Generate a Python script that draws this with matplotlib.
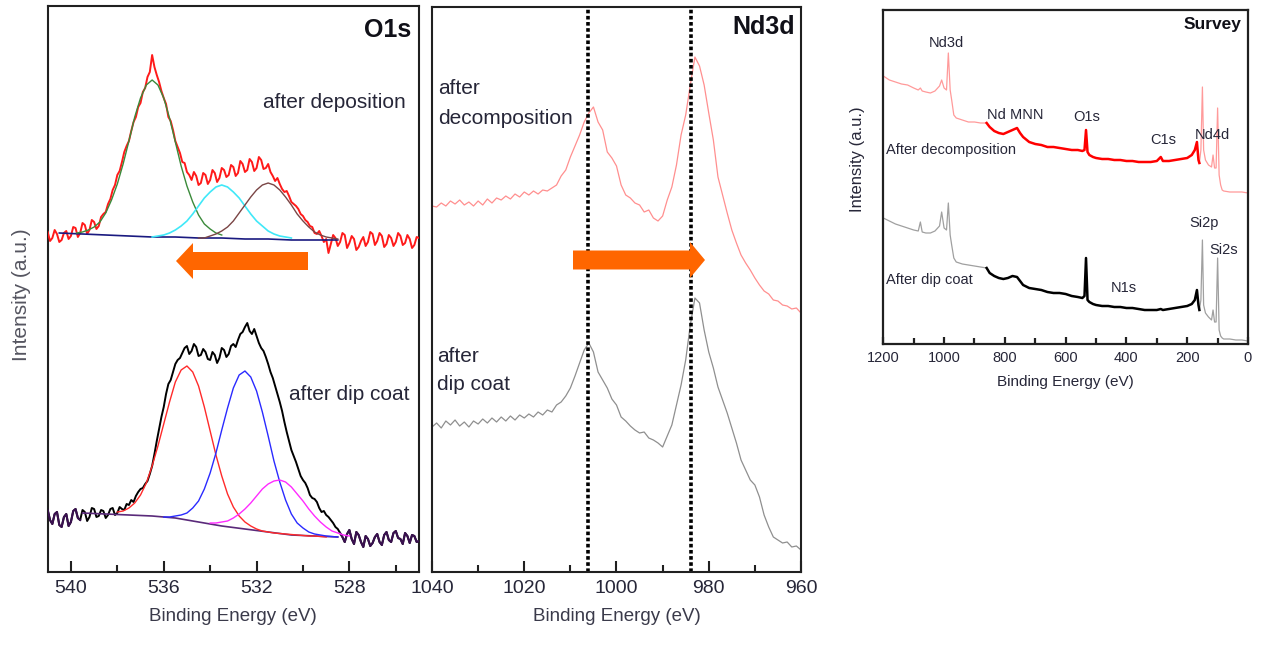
import numpy as np
import matplotlib
matplotlib.use("Agg")
import matplotlib.pyplot as plt
from matplotlib.patches import Polygon
from matplotlib.ticker import MultipleLocator

plt.rcParams['font.family'] = ['Liberation Sans', 'DejaVu Sans']

W, H = 1264, 648
TEXT = '#262638'

# ---------------- O1s core level (0.1 eV steps, 541 -> 525 eV) ----------------
o1s_be = np.round(np.linspace(541.0, 525.0, 161), 2)
o1s_deposition = [
    340, 331, 334, 342, 338, 330, 332, 339, 341, 333,
    336, 345, 344, 335, 339, 349, 347, 338, 342, 352,
    350, 343, 346, 355, 358, 360, 368, 373, 382, 387,
    397, 401, 410, 420, 426, 431, 441, 450, 455, 465,
    469, 480, 484, 495, 500, 517, 505, 497, 490, 481,
    474, 468, 455, 451, 442, 431, 425, 419, 410, 409,
    400, 397, 392, 400, 396, 387, 389, 399, 397, 388,
    392, 402, 399, 390, 394, 404, 402, 395, 397, 407,
    405, 396, 399, 411, 408, 400, 402, 413, 410, 401,
    404, 415, 412, 403, 404, 408, 400, 396, 391, 394,
    388, 383, 380, 381, 376, 370, 368, 366, 363, 358,
    356, 352, 350, 346, 345, 339, 338, 341, 336, 330,
    333, 319, 328, 337, 334, 326, 330, 339, 337, 324,
    329, 336, 333, 322, 325, 331, 335, 326, 330, 340,
    338, 327, 331, 339, 336, 325, 328, 337, 334, 326,
    330, 339, 336, 327, 329, 337, 333, 324, 327, 335,
    334]
o1s_dipcoat = [
    62, 52, 48, 58, 60, 47, 45, 55, 58, 46,
    50, 61, 63, 54, 52, 62, 60, 51, 55, 64,
    63, 55, 56, 62, 61, 54, 57, 63, 64, 57,
    59, 65, 63, 62, 68, 67, 72, 70, 76, 80,
    83, 84, 88, 91, 98, 106, 118, 131, 143, 155,
    165, 178, 188, 192, 200, 208, 212, 214, 219, 224,
    226, 218, 221, 228, 225, 216, 217, 223, 220, 213,
    212, 220, 217, 209, 214, 224, 222, 215, 218, 226,
    228, 225, 232, 238, 240, 245, 249, 241, 238, 243,
    236, 229, 224, 221, 215, 208, 200, 194, 186, 178,
    170, 161, 150, 140, 131, 122, 116, 110, 103, 96,
    92, 89, 84, 77, 74, 73, 70, 64, 60, 61,
    57, 55, 52, 49, 45, 43, 39, 35, 30, 38,
    42, 33, 28, 40, 37, 30, 25, 36, 33, 26,
    29, 35, 38, 30, 27, 37, 40, 32, 30, 39,
    41, 34, 33, 28, 39, 36, 29, 37, 36, 30,
    31]

# fitted components, after deposition
dep_bg_be = [540.5, 539.5, 538.5, 537.5, 536.5, 535.5, 534.5, 533.5, 532.5, 531.5, 530.5, 529.5, 528.5]
dep_bg = [339, 338, 337, 336, 335, 335, 334, 334, 333, 333, 332, 332, 332]
dep_c1_be = np.linspace(539.75, 533.5, 26)
dep_c1 = [339, 340, 342, 345, 350, 359, 372, 388, 408, 431, 455, 474, 487, 492,
          487, 474, 454, 430, 406, 386, 370, 357, 348, 343, 339, 337]
dep_c2_be = np.linspace(536.5, 530.5, 25)
dep_c2 = [335, 336, 337, 339, 342, 346, 351, 358, 366, 374, 380, 385, 387,
          385, 380, 374, 366, 358, 351, 346, 341, 338, 336, 335, 334]
dep_c3_be = np.linspace(534.5, 528.5, 25)
dep_c3 = [334, 334, 336, 338, 341, 345, 351, 359, 367, 375, 382, 387, 389,
          387, 382, 375, 367, 358, 351, 345, 340, 337, 335, 334, 333]

# fitted components, after dip coat
dip_bg_be = [539.5, 538.5, 537.5, 536.5, 535.5, 534.5, 533.5, 532.5, 531.5, 530.5, 529.5, 528.5]
dip_bg = [59, 58, 57, 56, 54, 50, 46, 43, 40, 37, 36, 35]
dip_c1_be = np.linspace(538.0, 529.0, 37)
dip_c1 = [60, 61, 64, 69, 77, 89, 106, 126, 148, 170, 190, 202, 206,
          200, 186, 165, 141, 117, 96, 78, 65, 56, 50, 46, 43,
          41, 40, 39, 38.5, 38, 37.5, 37, 36.5, 36, 36, 35.5, 35]
dip_c2_be = np.linspace(536.0, 528.5, 31)
dip_c2 = [55, 55, 56, 57, 59, 64, 71, 83, 99, 119, 142, 164, 184, 197, 201,
          195, 181, 160, 136, 111, 90, 72, 58, 49, 44, 40, 38, 37, 36, 35.5, 35]
dip_c3_be = np.linspace(534.0, 528.0, 25)
dip_c3 = [49, 49, 50, 51, 54, 58, 63, 69, 76, 83, 88, 91, 92,
          90, 85, 78, 71, 63, 56, 50, 45, 41, 39, 37, 36]

# ---------------- Nd3d core level (1 eV steps, 1040 -> 960 eV) ----------------
nd_be = np.linspace(1040, 960, 81)
nd_decomposition = [
    366, 365, 369, 366, 371, 368, 372, 367, 370, 366,
    371, 367, 373, 369, 374, 372, 376, 373, 378, 375,
    380, 377, 381, 378, 382, 381, 384, 387, 396, 402,
    415, 426, 437, 450, 459, 465, 450, 442, 420, 414,
    406, 387, 377, 374, 369, 367, 360, 362, 354, 351,
    356, 372, 385, 407, 437, 457, 487, 515, 506, 487,
    459, 432, 395, 377, 359, 342, 329, 317, 309, 302,
    294, 287, 281, 278, 272, 271, 267, 266, 263, 264,
    259]
nd_dipcoat = [
    145, 149, 144, 151, 147, 152, 146, 150, 145, 151,
    148, 153, 149, 154, 150, 155, 151, 156, 152, 157,
    154, 158, 155, 160, 157, 162, 160, 167, 170, 176,
    184, 196, 209, 222, 229, 220, 200, 192, 184, 173,
    167, 155, 151, 146, 142, 139, 140, 134, 132, 129,
    125, 136, 147, 167, 187, 212, 247, 274, 269, 242,
    220, 204, 185, 172, 159, 144, 129, 112, 102, 92,
    87, 75, 57, 45, 35, 32, 29, 30, 25, 26,
    22]
nd_markers = [1006.2, 983.9]

# ---------------- Survey ----------------
survey_be = [
    1200, 1180, 1160, 1140, 1120, 1100, 1085, 1078, 1072, 1060,
    1045, 1030, 1015, 1008, 1000, 992, 986, 980, 975, 968,
    960, 940, 920, 900, 880, 860, 850, 835, 820, 805,
    790, 775, 760, 750, 740, 720, 700, 680, 660, 640,
    620, 600, 580, 560, 545, 538, 533, 528, 522, 510,
    500, 480, 460, 440, 420, 400, 380, 360, 340, 320,
    300, 287, 280, 260, 240, 220, 200, 185, 175, 168,
    163, 160, 155, 150, 146, 140, 130, 120, 115, 110,
    105, 100, 95, 90, 85, 80, 60, 40, 20, 0]
survey_decomposition = [
    268, 264, 262, 260, 259, 256, 254, 256, 253, 252,
    251, 253, 258, 264, 256, 254, 291, 254, 244, 229,
    226, 224, 222, 222, 221, 221, 217, 213, 211, 210,
    212, 214, 216, 211, 207, 202, 200, 199, 197, 197,
    196, 195, 194, 194, 193, 194, 214, 192, 189, 187,
    186, 185, 185, 184, 184, 183, 183, 182, 182, 182,
    183, 187, 183, 183, 184, 185, 186, 189, 194, 202,
    184, 181, 194, 257, 194, 184, 179, 177, 189, 176,
    176, 236, 169, 159, 154, 153, 152, 152, 152, 151]
survey_dipcoat = [
    126, 123, 120, 118, 116, 114, 113, 122, 112, 111,
    111, 113, 118, 132, 116, 114, 141, 109, 99, 86,
    82, 80, 79, 78, 77, 76, 71, 68, 66, 65,
    66, 68, 67, 63, 59, 56, 55, 54, 52, 51,
    51, 50, 48, 47, 46, 48, 86, 44, 42, 40,
    39, 38, 38, 37, 37, 36, 36, 35, 34, 34,
    34, 35, 34, 35, 36, 37, 38, 40, 44, 54,
    39, 34, 44, 104, 39, 31, 27, 24, 34, 22,
    22, 86, 14, 8, 6, 5, 5, 4, 4, 3]
survey_bold_range = (160, 860)

# ---------------- figure ----------------
fig = plt.figure(figsize=(W / 100, H / 100), dpi=100)


def px_axes(x0, y0, x1, y1):
    return fig.add_axes([x0 / W, 1 - y1 / H, (x1 - x0) / W, (y1 - y0) / H])


def ftext(px, py, s, **kw):
    kw.setdefault('color', TEXT)
    fig.text(px / W, 1 - py / H, s, **kw)


def style_axes(ax, major, minor, fs, lw, maj_len, min_len, pad):
    ax.set_yticks([])
    ax.xaxis.set_major_locator(MultipleLocator(major))
    ax.xaxis.set_minor_locator(MultipleLocator(minor))
    ax.tick_params(axis='x', which='both', direction='in', labelsize=fs,
                   labelcolor=TEXT, color='#202020', pad=pad)
    ax.tick_params(axis='x', which='major', length=maj_len, width=lw)
    ax.tick_params(axis='x', which='minor', length=min_len, width=lw)
    for s in ax.spines.values():
        s.set_linewidth(lw)
        s.set_color('#202020')


def block_arrow(x_tail, x_tip, yc, shaft, head, head_len, color='#ff6600'):
    d = 1 if x_tip > x_tail else -1
    xb = x_tip - d * head_len
    pts = [(x_tail, yc - shaft), (xb, yc - shaft), (xb, yc - head), (x_tip, yc),
           (xb, yc + head), (xb, yc + shaft), (x_tail, yc + shaft)]
    pts = [(x / W, 1 - y / H) for x, y in pts]
    fig.add_artist(Polygon(pts, closed=True, facecolor=color, edgecolor='none',
                           transform=fig.transFigure, zorder=5))


# --- O1s panel ---
ax1 = px_axes(47.7, 6, 419, 572)
ax1.plot(o1s_be, o1s_deposition, color='#ff1a1a', lw=1.4, zorder=3)
ax1.plot(dep_bg_be, dep_bg, color='#1a1a80', lw=1.2, zorder=4)
ax1.plot(dep_c1_be, dep_c1, color='#3a8a3a', lw=1.0, zorder=4)
ax1.plot(dep_c2_be, dep_c2, color='#40e8f8', lw=1.2, zorder=4)
ax1.plot(dep_c3_be, dep_c3, color='#7a4545', lw=1.0, zorder=4)

dip = np.array(o1s_dipcoat)
ax1.plot(o1s_be, dip, color='black', lw=1.4, zorder=3)
for m in (o1s_be >= 539.6, o1s_be <= 528.4):
    ax1.plot(o1s_be[m], dip[m], color='#3a1050', lw=1.5, zorder=3)
ax1.plot(dip_bg_be, dip_bg, color='#5a2a7a', lw=1.2, zorder=4)
ax1.plot(dip_c1_be, dip_c1, color='#ff2a2a', lw=1.0, zorder=4)
ax1.plot(dip_c2_be, dip_c2, color='#2a2aff', lw=1.0, zorder=4)
ax1.plot(dip_c3_be, dip_c3, color='#ff2aff', lw=1.0, zorder=4)

ax1.set_xlim(541, 525)
ax1.set_ylim(0, 566)
style_axes(ax1, 4, 2, 14, 1.5, 8, 5, 6)
ax1.set_xlabel('Binding Energy (eV)', fontsize=13.5, color='#3a3a4a', labelpad=8)

# --- Nd3d panel ---
ax2 = px_axes(432, 7, 801, 572)
ax2.plot(nd_be, nd_decomposition, color='#ff8f8f', lw=0.9)
ax2.plot(nd_be, nd_dipcoat, color='#8f8f8f', lw=0.9)
for be in nd_markers:
    ax2.axvline(be, color='black', lw=2.6, linestyle=(0, (1, 0.7)), zorder=2)
ax2.set_xlim(1040, 960)
ax2.set_ylim(0, 565)
style_axes(ax2, 20, 10, 14, 1.5, 8, 5, 6)
ax2.set_xlabel('Binding Energy (eV)', fontsize=13.5, color='#3a3a4a', labelpad=8)

# --- Survey panel ---
ax3 = px_axes(883.3, 9.5, 1248, 344)
sbe = np.array(survey_be)
bold = (sbe >= survey_bold_range[0]) & (sbe <= survey_bold_range[1])
hi = sbe >= survey_bold_range[1]
lo = sbe <= survey_bold_range[0]
for vals, light, dark in ((survey_decomposition, '#ff9a9a', '#ff0000'),
                          (survey_dipcoat, '#a0a0a0', '#000000')):
    v = np.array(vals)
    ax3.plot(sbe[hi], v[hi], color=light, lw=0.9)
    ax3.plot(sbe[lo], v[lo], color=light, lw=0.9)
    ax3.plot(sbe[bold], v[bold], color=dark, lw=1.8)
ax3.set_xlim(1200, 0)
ax3.set_ylim(0, 334.5)
style_axes(ax3, 200, 100, 10.5, 1.6, 5, 4, 5)
ax3.set_xlabel('Binding Energy (eV)', fontsize=11, color=TEXT, labelpad=7)

# --- labels ---
ftext(22, 295, 'Intensity (a.u.)', rotation=90, fontsize=15, color='#555560',
      ha='center', va='center')
ftext(411, 30, 'O1s', fontsize=18, fontweight='bold', ha='right', va='center',
      color='#101018')
ftext(263, 103, 'after deposition', fontsize=15, ha='left', va='center')
ftext(289, 395, 'after dip coat', fontsize=15, ha='left', va='center')

ftext(795, 27, 'Nd3d', fontsize=18, fontweight='bold', ha='right', va='center',
      color='#101018')
ftext(438, 88, 'after', fontsize=15, ha='left', va='center')
ftext(438, 118, 'decomposition', fontsize=15, ha='left', va='center')
ftext(437, 356, 'after', fontsize=15, ha='left', va='center')
ftext(437, 384, 'dip coat', fontsize=15, ha='left', va='center')

ftext(858, 159, 'Intensity (a.u.)', rotation=90, fontsize=12, ha='center', va='center')
ftext(1241, 25, 'Survey', fontsize=12.5, fontweight='bold', ha='right', va='center',
      color='#101018')
ftext(946, 43, 'Nd3d', fontsize=10.5, ha='center', va='center')
ftext(1015, 115, 'Nd MNN', fontsize=10.5, ha='center', va='center')
ftext(1087, 117, 'O1s', fontsize=10.5, ha='center', va='center')
ftext(1163, 140, 'C1s', fontsize=10.5, ha='center', va='center')
ftext(1212, 135, 'Nd4d', fontsize=10.5, ha='center', va='center')
ftext(886, 150, 'After decomposition', fontsize=10.5, ha='left', va='center')
ftext(1204, 223, 'Si2p', fontsize=10.5, ha='center', va='center')
ftext(1224, 250, 'Si2s', fontsize=10.5, ha='center', va='center')
ftext(886, 280, 'After dip coat', fontsize=10.5, ha='left', va='center')
ftext(1124, 288, 'N1s', fontsize=10.5, ha='center', va='center')

# --- shift arrows ---
block_arrow(308, 176, 261, 9, 18, 17)
block_arrow(573, 705, 260, 9.5, 18, 15)

fig.savefig('out.png', dpi=100)
